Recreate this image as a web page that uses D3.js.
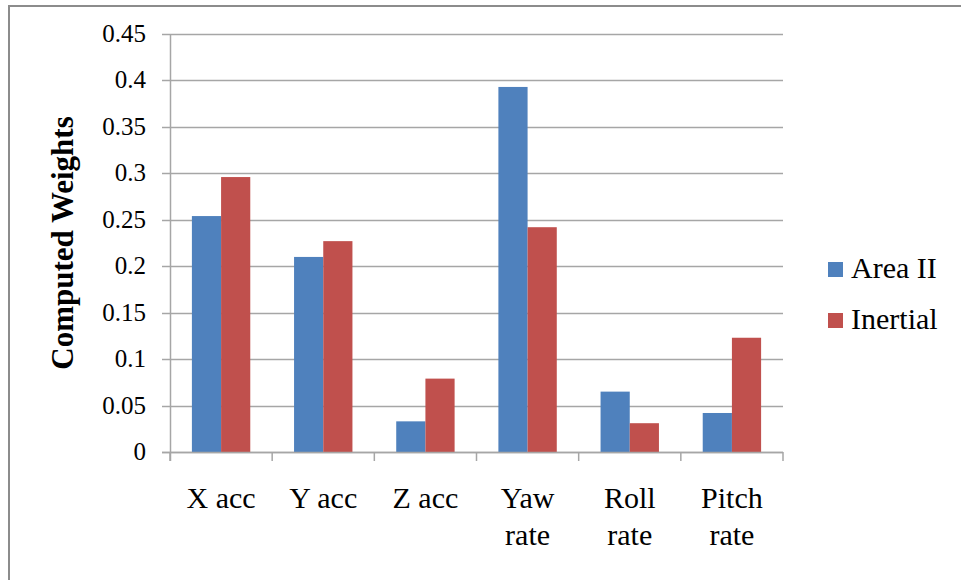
<!DOCTYPE html>
<html>
<head>
<meta charset="utf-8">
<script src="https://cdn.jsdelivr.net/npm/d3@7"></script>
<style>
    body { margin: 0; background: #fff; }
    svg text { font-family: "Liberation Serif", "Times New Roman", serif; fill: #000; }
</style>
</head>
<body>
<svg id="chart" width="961" height="580"></svg>
<script>
// chart data
var categories = [["X acc"], ["Y acc"], ["Z acc"], ["Yaw", "rate"], ["Roll", "rate"], ["Pitch", "rate"]];
var seriesNames = ["Area II", "Inertial"];
var areaII = [0.254, 0.210, 0.033, 0.393, 0.065, 0.042];
var inertial = [0.296, 0.227, 0.079, 0.242, 0.031, 0.123];
var yTicks = [0, 0.05, 0.1, 0.15, 0.2, 0.25, 0.3, 0.35, 0.4, 0.45];
var colors = ["#4F81BD", "#C0504D"];

var svg = d3.select("#chart");

// outer frame (cropped on right and bottom)
svg.append("path")
    .attr("d", "M9,580 V6 H961")
    .attr("fill", "none")
    .attr("stroke", "#8c8c8c")
    .attr("stroke-width", 2);

var plotLeft = 170, plotRight = 783, plotTop = 34, plotBottom = 452;

var x = d3.scaleBand()
    .domain(d3.range(categories.length))
    .range([plotLeft, plotRight])
    .paddingInner(0)
    .paddingOuter(0);

var y = d3.scaleLinear()
    .domain([0, 0.45])
    .range([plotBottom, plotTop]);

// gridlines
svg.append("g")
    .selectAll("line")
    .data(yTicks)
    .enter().append("line")
    .attr("x1", plotLeft - 8)
    .attr("x2", plotRight)
    .attr("y1", function (d) { return Math.round(y(d)) + 0.5; })
    .attr("y2", function (d) { return Math.round(y(d)) + 0.5; })
    .attr("stroke", "#a6a6a6")
    .attr("stroke-width", 1.5);

// y tick labels
svg.append("g")
    .selectAll("text")
    .data(yTicks)
    .enter().append("text")
    .attr("x", 146)
    .attr("y", function (d) { return y(d) + 8; })
    .attr("text-anchor", "end")
    .style("font-size", "25px")
    .text(function (d) { return String(+d.toFixed(2)); });

// bars (gap width 150%)
var bw = x.bandwidth() / 3.5;
var series = [areaII, inertial];
series.forEach(function (vals, s) {
    svg.append("g")
        .selectAll("rect")
        .data(vals)
        .enter().append("rect")
        .attr("x", function (d, i) { return x(i) + bw * 0.75 + s * bw; })
        .attr("width", bw)
        .attr("y", function (d) { return y(d); })
        .attr("height", function (d) { return plotBottom - y(d); })
        .attr("fill", colors[s]);
});

// axis lines
svg.append("line")
    .attr("x1", plotLeft + 0.5).attr("x2", plotLeft + 0.5)
    .attr("y1", plotTop).attr("y2", plotBottom + 9)
    .attr("stroke", "#a6a6a6").attr("stroke-width", 1.5);

svg.append("line")
    .attr("x1", plotLeft - 8).attr("x2", plotRight)
    .attr("y1", plotBottom + 0.5).attr("y2", plotBottom + 0.5)
    .attr("stroke", "#a6a6a6").attr("stroke-width", 1.5);

// x ticks between categories
svg.append("g")
    .selectAll("line")
    .data(d3.range(categories.length + 1))
    .enter().append("line")
    .attr("x1", function (d) { return plotLeft + d * x.step(); })
    .attr("x2", function (d) { return plotLeft + d * x.step(); })
    .attr("y1", plotBottom)
    .attr("y2", plotBottom + 9)
    .attr("stroke", "#a6a6a6")
    .attr("stroke-width", 1.5);

// category labels
var catLabels = svg.append("g")
    .selectAll("text")
    .data(categories)
    .enter().append("text")
    .attr("text-anchor", "middle")
    .style("font-size", "30px")
    .attr("transform", function (d, i) {
        return "translate(" + (x(i) + x.bandwidth() / 2) + ",508)";
    });

catLabels.selectAll("tspan")
    .data(function (d) { return d; })
    .enter().append("tspan")
    .attr("x", 0)
    .attr("y", function (d, i) { return i * 37; })
    .text(function (d) { return d; });

// y axis title
svg.append("text")
    .attr("transform", "translate(73,243) rotate(-90)")
    .attr("text-anchor", "middle")
    .style("font-size", "31px")
    .style("font-weight", "bold")
    .text("Computed Weights");

// legend
var legend = svg.append("g")
    .selectAll("g")
    .data(seriesNames)
    .enter().append("g")
    .attr("transform", function (d, i) { return "translate(828," + (262 + i * 51) + ")"; });

legend.append("rect")
    .attr("width", 15)
    .attr("height", 15)
    .attr("fill", function (d, i) { return colors[i]; });

legend.append("text")
    .attr("x", 23)
    .attr("y", 16)
    .style("font-size", "30px")
    .text(function (d) { return d; });
</script>
</body>
</html>
